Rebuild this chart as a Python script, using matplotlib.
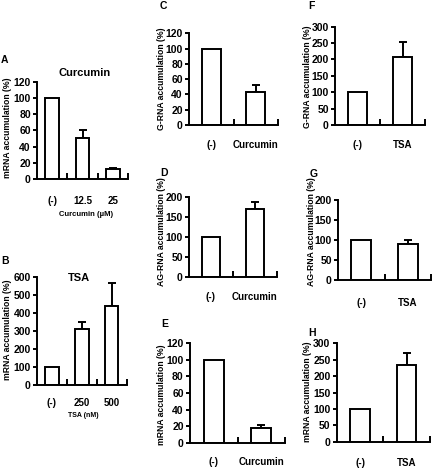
import matplotlib
matplotlib.use("Agg")
import matplotlib.pyplot as plt
import numpy as np

W, H = 433, 469

plt.rcParams["font.family"] = ["Liberation Sans Narrow", "Liberation Sans", "DejaVu Sans"]
plt.rcParams["font.weight"] = "bold"

# ---- data ----
a_labels = ["(-)", "12.5", "25"]
a_values = [100, 50, 12]
a_err = [0, 11, 2]

b_labels = ["(-)", "250", "500"]
b_values = [100, 310, 437]
b_err = [0, 41, 130]

curc_labels = ["(-)", "Curcumin"]
tsa_labels = ["(-)", "TSA"]

c_values = [100, 43]
c_err = [0, 9]

d_values = [100, 170]
d_err = [0, 17]

e_values = [100, 18]
e_err = [0, 3]

f_values = [100, 208]
f_err = [0, 44]

g_values = [100, 91]
g_err = [0, 9]

h_values = [100, 234]
h_err = [0, 35]

LW = 1.4

fig = plt.figure(figsize=(W / 100, H / 100), dpi=100)


def fx(x):
    return x / W


def fy(y):
    return 1 - y / H


def panel(box, labels, values, errs, ymax, ystep, bar_width=0.45, tick_pad=11):
    # box is (left, right, y of zero, y of ymax) in pixels of the figure
    left, right, y0, ytop = box
    ax = fig.add_axes([fx(left), fy(y0), (right - left) / W, (y0 - ytop) / H])
    n = len(values)
    x = np.arange(n)
    ax.bar(x, values, width=bar_width, color="white", edgecolor="black",
           linewidth=LW, zorder=2)
    errs = np.array(errs)
    has = errs > 0
    ax.errorbar(x[has], np.array(values)[has], yerr=[np.zeros(has.sum()), errs[has]],
                fmt="none", ecolor="black", elinewidth=LW, capsize=3,
                capthick=LW, zorder=1)
    ax.set_xlim(-0.5, n - 0.5)
    ax.set_ylim(0, ymax)
    ax.set_yticks(np.arange(0, ymax + 1, ystep))
    ax.set_xticks(x)
    ax.set_xticklabels(labels)
    ax.set_xticks(np.arange(n) + 0.5, minor=True)
    ax.spines["top"].set_visible(False)
    ax.spines["right"].set_visible(False)
    ax.spines["left"].set_linewidth(LW)
    ax.spines["bottom"].set_linewidth(LW)
    ax.tick_params(axis="y", direction="out", length=3, width=LW, pad=1.5,
                   labelsize=7.5)
    ax.tick_params(axis="x", which="major", length=0, pad=tick_pad, labelsize=7)
    ax.tick_params(axis="x", which="minor", direction="in", length=4, width=LW)
    ax.patch.set_alpha(0)
    return ax


def ylab(x, y, text):
    fig.text(fx(x), fy(y), text, rotation=90, ha="center", va="center",
             fontsize=6.2, fontweight="bold")


def letter(x, y, text):
    fig.text(fx(x), fy(y), text, ha="left", va="center", fontsize=7.5,
             fontweight="bold")


# A
panel((37, 128, 179, 81.7), a_labels, a_values, a_err, 120, 20, tick_pad=12.5)
letter(1, 60, "A")
ylab(8, 128, "mRNA accumulation (%)")
fig.text(fx(85), fy(73), "Curcumin", ha="center", va="center", fontsize=8)
fig.text(fx(86), fy(214), "Curcumin (\u00b5M)", ha="center", va="center", fontsize=5.5)

# B
panel((37, 126.7, 385, 276.7), b_labels, b_values, b_err, 600, 100, tick_pad=9.3)
letter(1, 261, "B")
ylab(8, 330, "mRNA accumulation (%)")
fig.text(fx(79), fy(278), "TSA", ha="center", va="center", fontsize=8)
fig.text(fx(83), fy(415), "TSA (nM)", ha="center", va="center", fontsize=5)

# C
panel((189, 278, 125, 33.3), curc_labels, c_values, c_err, 120, 20,
      bar_width=0.42, tick_pad=10.8)
letter(160, 6, "C")
ylab(162, 79, "G-RNA accumulation (%)")

# D
panel((189, 277, 276.7, 196.7), curc_labels, d_values, d_err, 200, 50,
      bar_width=0.42, tick_pad=11)
letter(160, 173, "D")
ylab(161, 232, "AG-RNA accumulation (%)")

# E
panel((190, 285, 442.7, 343.3), curc_labels, e_values, e_err, 120, 20,
      bar_width=0.42, tick_pad=10.3)
letter(161, 324, "E")
ylab(162, 395, "mRNA accumulation (%)")

# F
panel((335, 425, 125, 26.7), tsa_labels, f_values, f_err, 300, 50,
      bar_width=0.42, tick_pad=11)
letter(308, 6, "F")
ylab(307, 77, "G-RNA accumulation (%)")

# G
panel((338, 431, 280, 200), tsa_labels, g_values, g_err, 200, 50,
      bar_width=0.42, tick_pad=13)
letter(310, 174, "G")
ylab(311, 232, "AG-RNA accumulation (%)")

# H
panel((336.7, 430, 441.7, 343.3), tsa_labels, h_values, h_err, 300, 50,
      bar_width=0.42, tick_pad=11.7)
letter(308, 333, "H")
ylab(307, 392, "mRNA accumulation (%)")

fig.savefig("out.png", dpi=100)
